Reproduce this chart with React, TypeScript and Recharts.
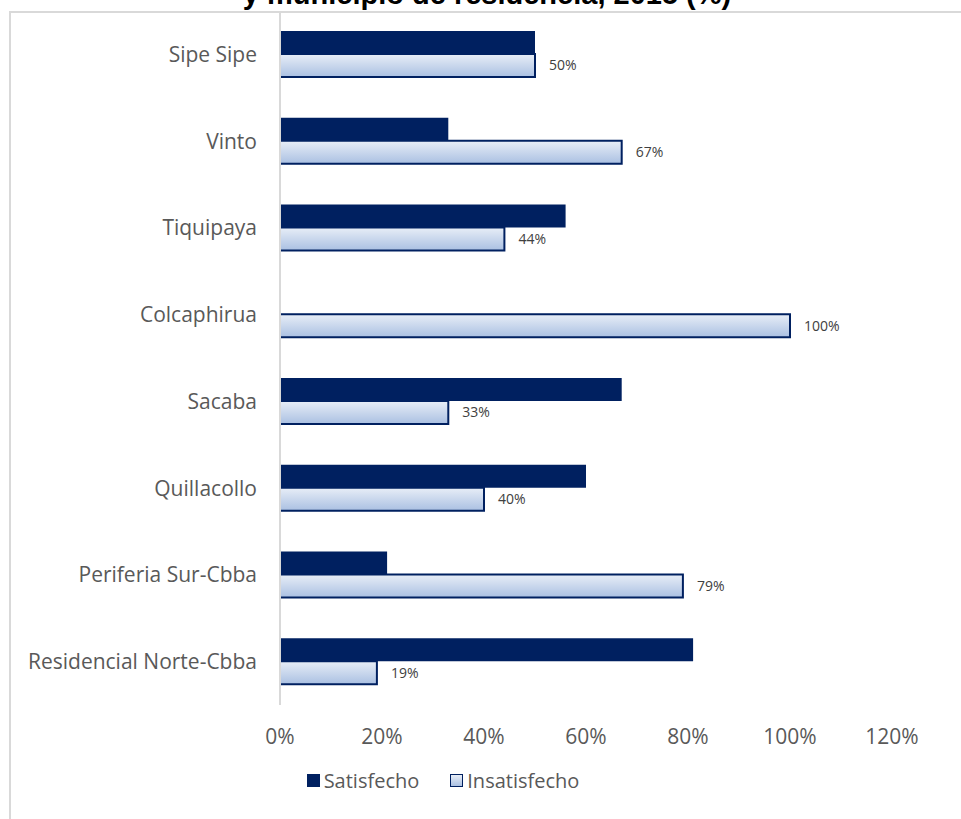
import { Bar, BarChart, LabelList, Legend, XAxis, YAxis } from 'recharts';

const municipios = [
  'Sipe Sipe',
  'Vinto',
  'Tiquipaya',
  'Colcaphirua',
  'Sacaba',
  'Quillacollo',
  'Periferia Sur-Cbba',
  'Residencial Norte-Cbba',
];
const satisfecho = [50, 33, 56, 0, 67, 60, 21, 81];
const insatisfecho = [50, 67, 44, 100, 33, 40, 79, 19];
const xTicks = [0, 20, 40, 60, 80, 100, 120];

const data = municipios.map((m, i) => ({
  municipio: m,
  satisfecho: satisfecho[i],
  insatisfecho: insatisfecho[i],
}));

const NAVY = '#002060';
const FONT = '"Open Sans", sans-serif';

function LegendBox() {
  return (
    <div
      style={{
        display: 'flex',
        justifyContent: 'center',
        gap: 31,
        fontFamily: FONT,
        fontSize: 20,
        color: '#595959',
        marginTop: 2,
        paddingRight: 6,
      }}
    >
      <span style={{ display: 'flex', alignItems: 'center' }}>
        <span style={{ width: 13, height: 13, background: NAVY, marginRight: 4 }} />
        Satisfecho
      </span>
      <span style={{ display: 'flex', alignItems: 'center' }}>
        <span
          style={{
            width: 11,
            height: 11,
            border: `1px solid ${NAVY}`,
            background: 'linear-gradient(#e8eef7, #aac0e2)',
            marginRight: 4,
          }}
        />
        Insatisfecho
      </span>
    </div>
  );
}

export default function App() {
  return (
    <div style={{ position: 'absolute', left: 0, top: 0, width: 961, height: 819, overflow: 'hidden', background: '#fff' }}>
      <div
        style={{
          position: 'absolute',
          left: 9,
          top: 11,
          width: 960,
          height: 820,
          borderLeft: '2px solid #d9d9d9',
          borderTop: '2px solid #d9d9d9',
        }}
      />
      <div
        style={{
          position: 'absolute',
          left: 0,
          width: 974,
          top: -23,
          textAlign: 'center',
          fontFamily: '"Liberation Sans", Arial, sans-serif',
          fontWeight: 'bold',
          fontSize: 29,
          lineHeight: '34px',
          color: '#000',
        }}
      >
        y municipio de residencia, 2015 (%)
      </div>
      <div style={{ position: 'absolute', left: 0, top: 0 }}>
        <BarChart
          width={961}
          height={819}
          data={data}
          layout="vertical"
          margin={{ top: 11, right: 69, bottom: 0, left: 0 }}
          barGap={0}
        >
          <defs>
            <linearGradient id="gradIns" x1="0" y1="0" x2="0" y2="1">
              <stop offset="0%" stopColor="#e8eef7" />
              <stop offset="100%" stopColor="#aac0e2" />
            </linearGradient>
          </defs>
          <XAxis
            type="number"
            domain={[0, 120]}
            ticks={xTicks}
            tickFormatter={(v) => `${v}%`}
            axisLine={false}
            tickLine={false}
            tickMargin={18}
            height={60}
            tick={{ fill: '#595959', fontSize: 21, fontFamily: FONT }}
          />
          <YAxis
            type="category"
            dataKey="municipio"
            width={280}
            axisLine={{ stroke: '#d9d9d9', strokeWidth: 2 }}
            tickLine={false}
            tickMargin={17}
            tick={{ fill: '#595959', fontSize: 21, fontFamily: FONT }}
          />
          <Legend verticalAlign="bottom" height={54} content={() => <LegendBox />} />
          <Bar dataKey="satisfecho" name="Satisfecho" fill={NAVY} barSize={23} isAnimationActive={false} />
          <Bar
            dataKey="insatisfecho"
            name="Insatisfecho"
            fill="url(#gradIns)"
            stroke={NAVY}
            strokeWidth={2}
            barSize={23}
            isAnimationActive={false}
          >
            <LabelList
              dataKey="insatisfecho"
              position="right"
              offset={14}
              formatter={(v: number) => `${v}%`}
              style={{ fill: '#404040', fontSize: 14, fontFamily: FONT }}
            />
          </Bar>
        </BarChart>
      </div>
    </div>
  );
}
